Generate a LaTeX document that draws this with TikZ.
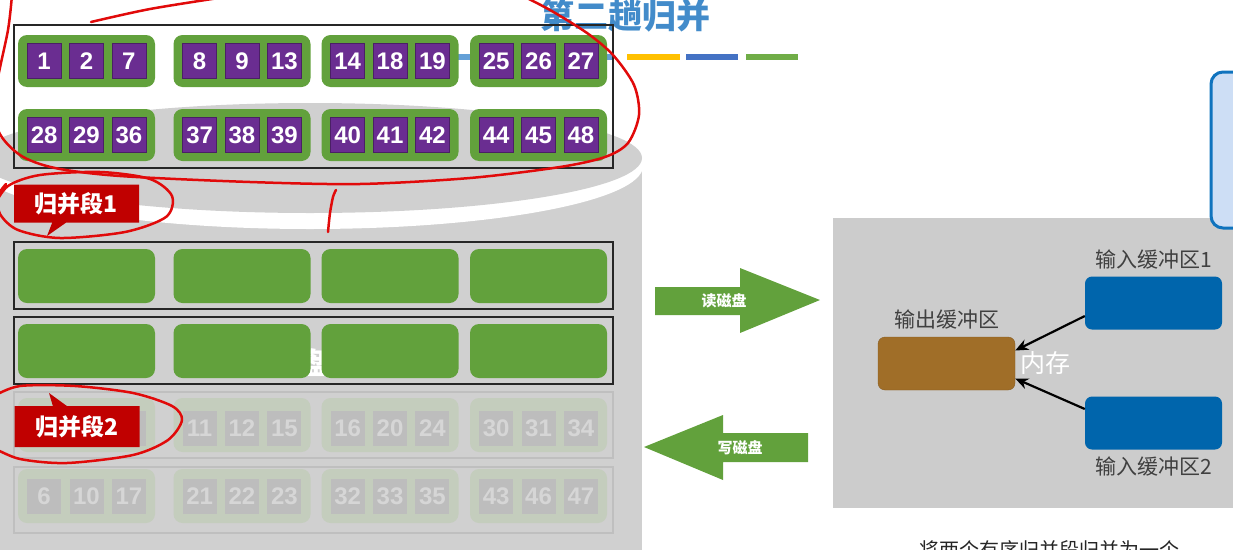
\documentclass[tikz,border=0pt]{standalone}
\usepackage{fontspec}
\setmainfont{Liberation Sans}
\newfontfamily\cjk{Noto Sans CJK SC}
\usetikzlibrary{positioning, arrows.meta, shapes.callouts}

\definecolor{rungreen}{RGB}{98,161,60}
\definecolor{numpurple}{RGB}{106,45,145}
\definecolor{diskgrey}{RGB}{208,208,208}
\definecolor{memgrey}{RGB}{204,204,204}
\definecolor{labelred}{RGB}{192,0,0}
\definecolor{penred}{RGB}{225,10,10}
\definecolor{outbrown}{RGB}{160,110,40}
\definecolor{inblue}{RGB}{0,101,172}
\definecolor{titleblue}{RGB}{66,139,202}
\definecolor{barlight}{RGB}{100,160,215}
\definecolor{barblue}{RGB}{68,114,196}
\definecolor{baryellow}{RGB}{255,192,0}
\definecolor{bargreen}{RGB}{112,173,71}
\definecolor{fadegreen}{RGB}{196,205,189}
\definecolor{fadesq}{RGB}{189,189,189}
\definecolor{fadetxt}{RGB}{214,214,214}
\definecolor{sidefill}{RGB}{205,222,245}
\definecolor{sideline}{RGB}{15,115,190}

\begin{document}
\begin{tikzpicture}[x=1pt, y=-1pt,
  frame/.style={draw=black!85, line width=2pt, minimum width=599pt, inner sep=0pt},
  faded/.style={draw=black!25, line width=1.6pt, minimum width=599pt, inner sep=0pt},
  grp/.style={fill=rungreen, rounded corners=9pt, minimum width=137pt,
    minimum height=52pt, inner sep=0pt},
  fgrp/.style={grp, fill=fadegreen},
  sq/.style={fill=numpurple, draw=numpurple!70!black, minimum width=34pt,
    minimum height=35pt, inner sep=0pt, text=white,
    font=\bfseries\fontsize{24}{24}\selectfont},
  fsq/.style={sq, fill=fadesq, draw=none, text=fadetxt},
  seglabel/.style={rectangle callout, fill=labelred, text=white,
    font=\cjk\bfseries\fontsize{23}{23}\selectfont, minimum width=125pt,
    minimum height=38pt, inner sep=0pt, callout pointer width=14pt},
  buf/.style={rounded corners=7pt, minimum width=137pt, minimum height=53pt, inner sep=0pt},
  buftxt/.style={font=\cjk\fontsize{21}{21}\selectfont, text=black!75},
  arrowtxt/.style={font=\cjk\bfseries\fontsize{15}{15}\selectfont, text=white},
  pen/.style={draw=penred, line width=2.5pt, line cap=round, line join=round},
  arrow/.style={line width=2.2pt, -{Stealth[length=13pt, width=11pt]}}
]
\useasboundingbox (0,0) rectangle (1233,549);
\clip (0,0) rectangle (1233,549);

% title and colour bars
\fill[barlight] (452,54) rectangle (612,60);
\fill[baryellow] (627,54) rectangle (680,60);
\fill[barblue] (686,54) rectangle (738,60);
\fill[bargreen] (746,54) rectangle (798,60);
\node[anchor=base, text=titleblue, font=\cjk\bfseries\fontsize{34}{34}\selectfont]
  (title) at (625,28) {第二趟归并};

% disk
\fill[diskgrey] (-30,166) rectangle (642,560);
\fill[white] (310,166) ellipse [x radius=333, y radius=63];
\fill[diskgrey] (310,158) ellipse [x radius=332, y radius=55];
\node[text=white, font=\cjk\bfseries\fontsize{30}{30}\selectfont] (disk) at (298,363) {磁盘};

% merge run 1
\node[frame, minimum height=143pt] (f1) at (313.5,96.5) {};
\foreach \gx/\a/\b/\c [count=\g] in {86.5/1/2/7, 242/8/9/13, 390/14/18/19, 538.5/25/26/27} {
  \node[grp] (ga\g) at (\gx,61) {};
  \node[sq] (ga\g-b) at (ga\g) {\b};
  \node[sq, left=8pt of ga\g-b] (ga\g-a) {\a};
  \node[sq, right=8pt of ga\g-b] (ga\g-c) {\c};
}
\foreach \gx/\a/\b/\c [count=\g] in {86.5/28/29/36, 242/37/38/39, 390/40/41/42, 538.5/44/45/48} {
  \node[grp] (gb\g) at (\gx,135) {};
  \node[sq] (gb\g-b) at (gb\g) {\b};
  \node[sq, left=8pt of gb\g-b] (gb\g-a) {\a};
  \node[sq, right=8pt of gb\g-b] (gb\g-c) {\c};
}

% empty buffers
\node[frame, minimum height=67pt] (f2) at (313.5,275.5) {};
\foreach \gx [count=\g] in {86.5, 242, 390, 538.5}
  \node[grp, minimum height=54pt] (gc\g) at (\gx,276) {};
\node[frame, minimum height=67pt] (f3) at (313.5,350.5) {};
\foreach \gx [count=\g] in {86.5, 242, 390, 538.5}
  \node[grp, minimum height=54pt] (gd\g) at (\gx,351) {};

% merge run 2 (faded)
\node[faded, minimum height=66pt] (f4) at (313.5,425) {};
\node[fgrp, minimum height=54pt] (ge1) at (86.5,425) {};
\node[fsq] (ge1-b) at ([yshift=-3pt]ge1) {};
\node[fsq, left=8pt of ge1-b] (ge1-a) {};
\node[fsq, right=8pt of ge1-b] (ge1-c) {};
\foreach \gx/\a/\b/\c [count=\g from 2] in {242/11/12/15, 390/16/20/24, 538.5/30/31/34} {
  \node[fgrp, minimum height=54pt] (ge\g) at (\gx,425) {};
  \node[fsq] (ge\g-b) at ([yshift=-3pt]ge\g) {\b};
  \node[fsq, left=8pt of ge\g-b] (ge\g-a) {\a};
  \node[fsq, right=8pt of ge\g-b] (ge\g-c) {\c};
}
\node[faded, minimum height=66pt] (f5) at (313.5,500) {};
\foreach \gx/\a/\b/\c [count=\g] in {86.5/6/10/17, 242/21/22/23, 390/32/33/35, 538.5/43/46/47} {
  \node[fgrp, minimum height=54pt] (gf\g) at (\gx,496) {};
  \node[fsq] (gf\g-b) at (gf\g) {\b};
  \node[fsq, left=8pt of gf\g-b] (gf\g-a) {\a};
  \node[fsq, right=8pt of gf\g-b] (gf\g-c) {\c};
}

% run labels
\node[seglabel, callout absolute pointer={(47,236)}] (seg1) at (76.5,203.5) {归并段1};
\node[seglabel, minimum height=41pt, callout absolute pointer={(49,393)}] (seg2) at (77,426.5) {归并段2};

% read / write arrows
\fill[rungreen] (655,287) -- (740,287) -- (740,268) -- (820,300) -- (740,333)
  -- (740,315) -- (655,315) -- cycle;
\node[arrowtxt] (read) at (724,301) {读磁盘};
\fill[rungreen] (808,433) -- (723,433) -- (723,415) -- (644,447) -- (723,480)
  -- (723,462) -- (808,462) -- cycle;
\node[arrowtxt] (write) at (740,448) {写磁盘};

% memory
\node[fill=memgrey, minimum width=420pt, minimum height=290pt, anchor=north west,
  inner sep=0pt] (mem) at (833,218) {};
\node[buf, fill=outbrown, draw=outbrown!85!black] (outbuf) at (946.5,363.5) {};
\node[buf, fill=inblue] (inbuf1) at (1153.5,303) {};
\node[buf, fill=inblue] (inbuf2) at (1153.5,423) {};
\node[buftxt, above=4pt of outbuf] (outlbl) {输出缓冲区};
\node[buftxt, above=4pt of inbuf1] (in1lbl) {输入缓冲区1};
\node[buftxt, below=4pt of inbuf2] (in2lbl) {输入缓冲区2};
\node[text=white, font=\cjk\fontsize{25}{25}\selectfont, right=2pt of outbuf] (memlbl) {内存};
\draw[arrow] ([yshift=-13pt]inbuf1.west) -- ([yshift=13pt]outbuf.east);
\draw[arrow] ([yshift=14pt]inbuf2.west) -- ([yshift=-15pt]outbuf.east);

\draw[draw=sideline, fill=sidefill, line width=3pt, rounded corners=12pt]
  (1211,72) rectangle (1270,228);
\node[anchor=base, font=\cjk\fontsize{20}{20}\selectfont, text=black!85]
  (note) at (1049,557) {将两个有序归并段归并为一个};

% pen marks
\draw[pen] plot[smooth] coordinates {(225,-3) (150,9) (91,22)};
\draw[pen] plot[smooth] coordinates {(12,-5) (8,30) (-4,90) (-2,130) (20,155)
  (55,168) (120,176) (250,182) (360,184) (470,178) (560,167) (605,157)
  (628,143) (639,115) (634,85) (613,55) (587,33) (550,10) (515,-8)};
\draw[pen] plot[smooth] coordinates {(336,190) (333,197) (330,213) (328,232)};
\draw[pen] plot[smooth] coordinates {(-6,206) (8,186) (40,175) (100,172) (150,179)
  (172,196) (166,217) (125,232) (60,238) (18,230) (0,214) (-2,196) (6,184)};
\draw[pen] plot[smooth] coordinates {(-6,396) (20,386) (75,386) (133,393)
  (172,406) (182,420) (168,440) (133,455) (67,463) (20,459) (-6,448)};
\end{tikzpicture}
\end{document}
